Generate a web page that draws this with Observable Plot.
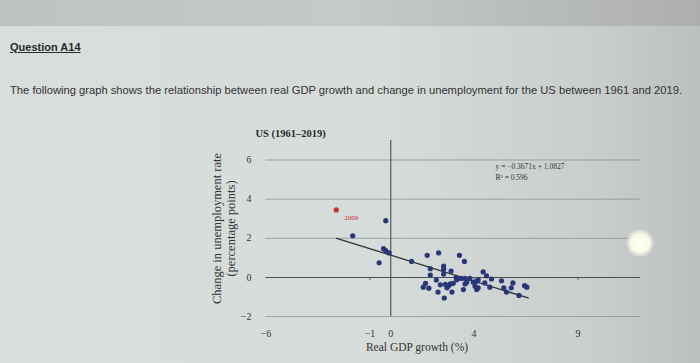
<!DOCTYPE html>
<html><head><meta charset="utf-8">
<script src="https://cdn.jsdelivr.net/npm/d3@7"></script>
<script src="https://cdn.jsdelivr.net/npm/@observablehq/plot@0.6"></script>
<style>
html,body{margin:0;padding:0;}
body{width:700px;height:363px;overflow:hidden;position:relative;
 background:linear-gradient(90deg,#d8dedb 0%,#d6dcd9 55%,#c9cdcc 85%,#bcbfbf 100%);
 font-family:"Liberation Sans",Arial,sans-serif;}
#topband{position:absolute;left:0;top:0;width:700px;height:26px;
 background:linear-gradient(90deg,#bfc3bf 0%,#c6cac6 50%,#acafae 100%);}
#q{position:absolute;left:10px;top:41px;font-size:11px;font-weight:bold;color:#2a2a2a;text-decoration:underline;}
#intro{position:absolute;left:10px;top:84px;font-size:11.2px;color:#333;white-space:nowrap;}
#glow{position:absolute;left:626px;top:229px;width:28px;height:28px;border-radius:50%;
 background:radial-gradient(circle,#fffff4 0%,#fbfbe8 45%,rgba(255,255,240,0) 75%);}
#chart{position:absolute;left:0;top:110px;}
</style></head>
<body>
<div id="topband"></div>
<div id="q">Question A14</div>
<div id="intro">The following graph shows the relationship between real GDP growth and change in unemployment for the US between 1961 and 2019.</div>
<div id="chart"></div>
<div id="glow"></div>
<script>
const gdpGrowth = [-1.83,-0.24,-0.35,-0.24,-0.08,-0.56,1.0,1.75,2.3,3.3,3.54,1.9,1.9,2.54,2.54,2.9,2.19,2.54,3.14,3.17,3.57,3.8,3.65,4.44,4.6,4.84,4.2,4.13,4.52,3.97,4.76,5.32,5.43,5.56,5.79,5.87,6.43,6.54,6.16,1.56,1.83,1.67,2.38,2.27,2.78,2.7,2.86,2.94,2.57,3.49,3.57,4.13,4.2,3.38,4.05,3.0,2.62];
const unempChange = [2.13,2.9,1.47,1.37,1.25,0.75,0.82,1.13,1.25,1.13,0.82,0.45,0.12,0.58,0.42,0.33,-0.13,0.17,0.0,-0.12,-0.05,-0.05,-0.25,0.28,0.08,-0.08,-0.12,-0.2,-0.28,-0.25,-0.5,-0.17,-0.53,-0.75,-0.53,-0.28,-0.42,-0.5,-0.92,-0.5,-0.55,-0.3,-0.38,-0.75,-0.42,-0.53,-0.33,-0.75,-1.05,-0.62,-0.33,-0.62,-0.53,-0.05,-0.45,-0.3,-0.35];
const highlight = [{year:"2009", gdp:-2.62, du:3.45}];
const fitLine = [{x:-2.6, y:2.0},{x:6.6, y:-1.05}];
const xTicks = [-6,-1,0,4,9];
const yTicks = [-2,0,2,4,6];
const gridYs = [-2,2,4,6];
const title = "US (1961\u20132019)";
const yLabel = "Change in unemployment rate\n(percentage points)";
const xLabel = "Real GDP growth (%)";
const equation = "y = \u22120.3671x + 1.0827\nR\u00b2 = 0.596";

const pts = gdpGrowth.map((g,i)=>({gdp:g, du:unempChange[i]}));
const serif = "'Liberation Serif','DejaVu Serif',serif";

const chart = Plot.plot({
  width:700, height:253,
  marginLeft:255, marginRight:60, marginTop:26, marginBottom:43,
  style:{background:"transparent", fontFamily:serif, fontSize:"10px", color:"#333"},
  x:{domain:[-6.5,12]},
  y:{domain:[-2.2,7.2]},
  marks:[
    Plot.ruleY(gridYs,{x1:-6,x2:12,stroke:"#8a9090",strokeWidth:0.9,strokeOpacity:0.85}),
    Plot.ruleY([0],{x1:-6,x2:12,stroke:"#4a4f50",strokeWidth:1.1}),
    Plot.ruleX([0],{y1:-2,y2:7,stroke:"#4a4f50",strokeWidth:1.1}),
    Plot.ruleX([-1,4,9],{y1:0,y2:-0.15,stroke:"#4a4f50",strokeWidth:1}),
    Plot.axisY({ticks:yTicks, tickSize:0, tickPadding:4, label:null, fontSize:10, fill:"#333"}),
    Plot.axisX({ticks:xTicks, tickSize:0, tickPadding:9, label:null, fontSize:10, fill:"#333"}),
    Plot.line(fitLine,{x:"x",y:"y",stroke:"#2f3233",strokeWidth:1.3}),
    Plot.dot(pts,{x:"gdp",y:"du",r:2.6,fill:"#28367a",stroke:"none"}),
    Plot.dot(highlight,{x:"gdp",y:"du",r:2.6,fill:"#c8323a",stroke:"none"}),
    Plot.text(highlight,{x:"gdp",y:"du",text:"year",dx:8,dy:8,textAnchor:"start",fill:"#c8323a",fontSize:7}),
    Plot.text([title],{frameAnchor:"top-left",text:d=>d,dy:-7,textAnchor:"start",fontSize:10.5,fontWeight:"bold",fill:"#2a2a2a"}),
    Plot.text([yLabel],{frameAnchor:"left",text:d=>d,dx:-32,rotate:-90,textAnchor:"middle",lineAnchor:"middle",fontSize:12.5,lineHeight:1.15,fill:"#333"}),
    Plot.text([xLabel],{frameAnchor:"bottom",text:d=>d,dx:-31,dy:30,fontSize:11.5,fill:"#333"}),
    Plot.text([equation],{frameAnchor:"top-right",text:d=>d,dx:-145,dy:25,textAnchor:"start",fontSize:7.5,lineHeight:1.45,fill:"#333"})
  ]
});
document.getElementById("chart").appendChild(chart);
</script>
</body></html>
